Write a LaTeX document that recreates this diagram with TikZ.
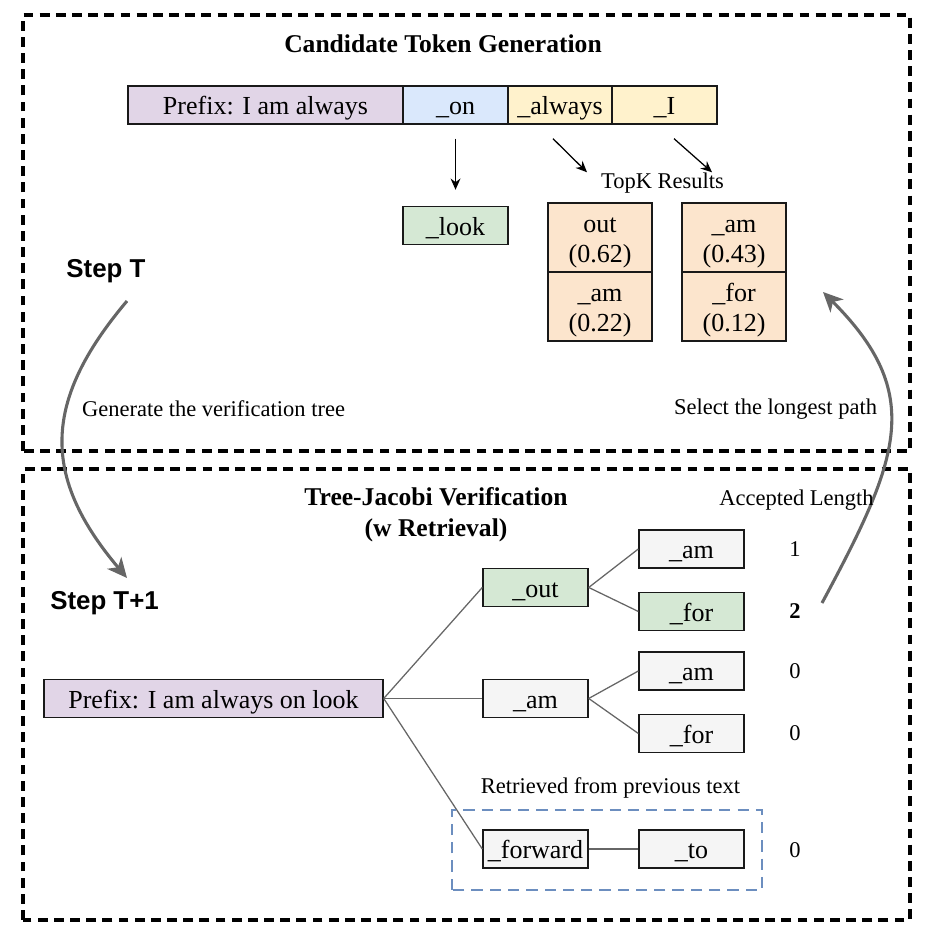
\documentclass[tikz,border=0pt]{standalone}
\usepackage{fontspec}
\setmainfont{Liberation Serif}
\setsansfont{Liberation Sans}
\usetikzlibrary{arrows.meta}
\definecolor{lila}{RGB}{225,213,231}
\definecolor{blau}{RGB}{218,232,252}
\definecolor{gelb}{RGB}{255,242,204}
\definecolor{gruen}{RGB}{213,232,212}
\definecolor{orangeHell}{RGB}{252,229,205}
\definecolor{grau}{RGB}{245,245,245}
\definecolor{grauPfeil}{RGB}{102,102,102}
\definecolor{blauRand}{RGB}{108,142,191}
\tikzstyle{tok} = [draw=black!90,line width=1pt,inner sep=0pt,minimum width=2.625cm,minimum height=0.95cm,text height=14pt,text depth=0pt]
\tikzstyle{topk} = [tok,fill=orangeHell,align=center,minimum width=2.6cm,minimum height=1.725cm,text height=35pt,text depth=0pt,font=\fontsize{18.5}{21.2}\selectfont]
\tikzstyle{rahmen} = [draw=black,line width=2.4pt,dash pattern=on 7pt off 4.5pt]
\tikzstyle{zweig} = [draw=grauPfeil,line width=0.9pt]
\tikzstyle{pfeil} = [-{Stealth[length=8pt,width=7pt]},line width=0.9pt]
\tikzstyle{bogen} = [draw=grauPfeil,line width=2.2pt,-{Stealth[length=14pt,width=13pt,inset=4pt]}]
\tikzstyle{klein} = [font=\fontsize{16}{19}\selectfont]
\tikzstyle{titel} = [font=\fontsize{18.2}{22}\selectfont\bfseries,align=center]
\tikzstyle{schritt} = [font=\sffamily\bfseries\fontsize{18.4}{22}\selectfont]

\begin{document}
\begin{tikzpicture}[font=\fontsize{18.5}{20.6}\selectfont]
\useasboundingbox (0,0) rectangle (23.200,23.700);
% frames
\draw[rahmen] (0.575,12.425) rectangle (22.750,23.325);
\draw[rahmen] (0.575,0.700) rectangle (22.750,11.975);

% candidate token generation
\node[titel] (titelA) at (11.075,22.600) {Candidate Token Generation};
\node[tok,fill=lila,minimum width=6.875cm] (pre) at (6.638,21.075) {Prefix: I am always};
\node[tok,fill=blau] (on) at (11.388,21.075) {\_on};
\node[tok,fill=gelb,minimum width=2.6cm] (always) at (14.000,21.075) {\_always};
\node[tok,fill=gelb] (I) at (16.613,21.075) {\_I};
\node[tok,fill=gruen] (look) at (11.388,18.063) {\_look};
\node[klein] (topkLabel) at (16.563,19.125) {TopK Results};
\node[topk] (out) at (15.000,17.763) {out\\(0.62)};
\node[topk] (amA) at (15.000,16.038) {\_am\\(0.22)};
\node[topk] (amB) at (18.350,17.763) {\_am\\(0.43)};
\node[topk] (forB) at (18.350,16.038) {\_for\\(0.12)};
\draw[pfeil] ([yshift=-0.35cm]on.south) -- ([yshift=0.4cm]look.north);
\draw[pfeil] ([xshift=-0.175cm,yshift=-0.35cm]always.south) -- ([xshift=-0.325cm,yshift=0.75cm]out.north);
\draw[pfeil] ([xshift=0.238cm,yshift=-0.35cm]I.south) -- ([xshift=-0.55cm,yshift=0.75cm]amB.north);

% steps
\node[schritt] (stepT) at (2.650,16.925) {Step T};
\node[schritt] (stepT1) at (2.613,8.625) {Step T+1};
\coordinate (bogenA) at (3.175,16.175);
\coordinate (bogenB) at (3.175,9.250);
\draw[bogen] (bogenA) .. controls (1.043,13.650) and (1.043,11.775) .. (bogenB);
\node[klein] (genLabel) at (5.338,13.475) {Generate the verification tree};
\coordinate (bogenC) at (20.550,8.625);
\coordinate (bogenD) at (20.575,16.400);
\draw[bogen] (bogenC) .. controls (22.500,12.250) and (23.125,13.850) .. (bogenD);
\node[klein] (selLabel) at (19.388,13.475) {Select the longest path};

% tree-jacobi verification
\node[titel] (titelB) at (10.900,10.838) {Tree-Jacobi Verification\\(w Retrieval)};
\node[klein] (accLabel) at (19.913,11.200) {Accepted Length};
\node[tok,fill=lila,minimum width=8.475cm] (pre2) at (5.338,6.238) {Prefix: I am always on look};
\node[tok,fill=gruen] (outT) at (13.388,9.013) {\_out};
\node[tok,fill=grau] (amT) at (13.388,6.238) {\_am};
\node[tok,fill=grau] (forward) at (13.388,2.475) {\_forward};
\node[tok,fill=grau] (amC) at (17.288,9.975) {\_am};
\node[tok,fill=gruen] (forC) at (17.288,8.413) {\_for};
\node[tok,fill=grau] (amD) at (17.288,6.925) {\_am};
\node[tok,fill=grau] (forD) at (17.288,5.363) {\_for};
\node[tok,fill=grau] (to) at (17.288,2.475) {\_to};
\draw[zweig] (pre2.east) -- (outT.west);
\draw[zweig] (pre2.east) -- (amT.west);
\draw[zweig] (pre2.east) -- (forward.west);
\draw[zweig] (outT.east) -- (amC.west);
\draw[zweig] (outT.east) -- (forC.west);
\draw[zweig] (amT.east) -- (amD.west);
\draw[zweig] (amT.east) -- (forD.west);
\draw[zweig] (forward.east) -- (to.west);
\node[klein] (lenA) at (19.875,9.975) {1};
\node[klein] (lenB) at (19.875,8.425) {\bfseries 2};
\node[klein] (lenC) at (19.875,6.925) {0};
\node[klein] (lenD) at (19.875,5.375) {0};
\node[klein] (lenE) at (19.875,2.450) {0};
\node[klein] (retLabel) at (15.263,4.000) {Retrieved from previous text};
\draw[draw=blauRand,line width=2pt,dash pattern=on 8pt off 5pt] (11.300,1.450) rectangle (19.050,3.450);

\end{tikzpicture}
\end{document}
